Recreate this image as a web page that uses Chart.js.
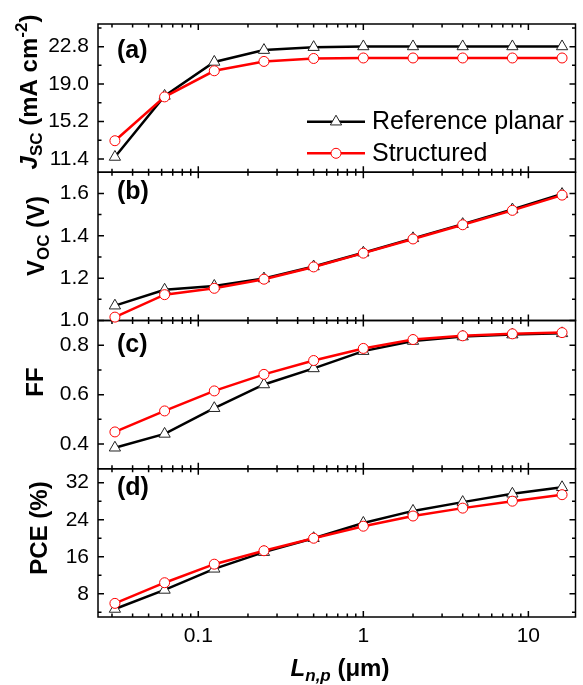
<!DOCTYPE html>
<html><head><meta charset="utf-8">
<script src="https://cdn.jsdelivr.net/npm/chart.js@4/dist/chart.umd.min.js"></script>
<style>html,body{margin:0;padding:0;background:#fff}canvas{display:block}</style>
</head><body>
<canvas id="c" width="583" height="685"></canvas>
<script>
// ---- data ----
const diffusionLengths = [0.03125, 0.0625, 0.125, 0.25, 0.5, 1, 2, 4, 8, 16];
const seriesNames = ['Reference planar', 'Structured'];
const jscPlanar     = [11.6, 17.8, 21.25, 22.45, 22.75, 22.82, 22.82, 22.82, 22.82, 22.82];
const jscStructured = [13.25, 17.7, 20.35, 21.3, 21.6, 21.65, 21.65, 21.65, 21.65, 21.65];
const vocPlanar     = [1.07, 1.145, 1.163, 1.198, 1.255, 1.32, 1.388, 1.455, 1.524, 1.597];
const vocStructured = [1.016, 1.122, 1.152, 1.195, 1.253, 1.318, 1.385, 1.452, 1.520, 1.592];
const ffPlanar      = [0.385, 0.441, 0.545, 0.641, 0.706, 0.776, 0.817, 0.835, 0.843, 0.848];
const ffStructured  = [0.449, 0.534, 0.615, 0.682, 0.738, 0.787, 0.823, 0.838, 0.846, 0.851];
const pcePlanar     = [4.73, 8.84, 13.4, 17.0, 20.0, 23.3, 25.9, 27.8, 29.6, 31.0];
const pceStructured = [5.94, 10.4, 14.4, 17.3, 20.0, 22.6, 24.8, 26.5, 28.0, 29.4];
const panelLabels = ['(a)', '(b)', '(c)', '(d)'];
const xTickLabels = [0.1, 1, 10];
const jscTicks = [11.4, 15.2, 19.0, 22.8];
const vocTicks = [1.0, 1.2, 1.4, 1.6];
const ffTicks  = [0.4, 0.6, 0.8];
const pceTicks = [8, 16, 24, 32];
const jscMinor = [13.3, 17.1, 20.9, 24.7];
const vocMinor = [1.1, 1.3, 1.5];
const ffMinor  = [0.5, 0.7];
const pceMinor = [4, 12, 20, 28];
const xMinor = [];
[0.01, 0.1, 1].forEach(d => { for (let k = 2; k <= 9; k++) xMinor.push(+(d * k).toPrecision(3)); });

// ---- style ----
const FONT = '"Liberation Sans", Arial, sans-serif';
const BLACK = '#000000', RED = '#ff0000';

const panels = [
  {id: 'ya', min: 10.05, max: 25.1, ticks: jscTicks, minor: jscMinor, dec: 1, a: jscPlanar, b: jscStructured},
  {id: 'yb', min: 1.0, max: 1.7, ticks: vocTicks, minor: vocMinor, dec: 1, a: vocPlanar, b: vocStructured},
  {id: 'yc', min: 0.3, max: 0.9, ticks: ffTicks, minor: ffMinor, dec: 1, a: ffPlanar, b: ffStructured},
  {id: 'yd', min: 3, max: 35, ticks: pceTicks, minor: pceMinor, dec: 0, a: pcePlanar, b: pceStructured}
];

const scales = {
  x: {
    type: 'logarithmic', position: 'bottom', min: 0.02468, max: 19.3,
    grid: {display: false, drawTicks: false}, border: {display: false},
    ticks: {font: {family: FONT, size: 21}, color: BLACK, padding: 7, autoSkip: false, maxRotation: 0,
            callback: v => String(v)},
    afterBuildTicks: s => { s.ticks = xTickLabels.map(v => ({value: v})); },
    afterFit: s => { s.height = 68; }
  }
};
const datasets = [];
panels.forEach((p, i) => {
  scales[p.id] = {
    type: 'linear', position: 'left', stack: 'v', stackWeight: 1, weight: 4 - i,
    min: p.min, max: p.max,
    grid: {display: false, drawTicks: false}, border: {display: false},
    ticks: {font: {family: FONT, size: 21}, color: BLACK, padding: 9, autoSkip: false,
            callback: v => Number(v).toFixed(p.dec)},
    afterBuildTicks: s => { s.ticks = p.ticks.map(v => ({value: v})); },
    afterFit: s => { s.width = 98; }
  };
  datasets.push({
    label: seriesNames[0], yAxisID: p.id, xAxisID: 'x', order: 1,
    data: diffusionLengths.map((x, k) => ({x, y: p.a[k]})),
    borderColor: BLACK, borderWidth: 2.5, tension: 0, clip: false,
    pointStyle: 'triangle', pointRadius: 6.5, pointBorderWidth: 1,
    pointBorderColor: '#222', pointBackgroundColor: '#ffffff'
  });
  datasets.push({
    label: seriesNames[1], yAxisID: p.id, xAxisID: 'x', order: 0,
    data: diffusionLengths.map((x, k) => ({x, y: p.b[k]})),
    borderColor: RED, borderWidth: 2.5, tension: 0, clip: false,
    pointStyle: 'circle', pointRadius: 5, pointBorderWidth: 1,
    pointBorderColor: RED, pointBackgroundColor: '#ffffff'
  });
});

function drawRich(ctx, segs, cx, cy, rot) {
  ctx.save();
  ctx.translate(cx, cy);
  if (rot) ctx.rotate(rot);
  let total = 0;
  segs.forEach(s => { ctx.font = s.font; s.w = ctx.measureText(s.text).width; total += s.w; });
  let x = -total / 2;
  ctx.textAlign = 'left'; ctx.textBaseline = 'alphabetic'; ctx.fillStyle = BLACK;
  segs.forEach(s => { ctx.font = s.font; ctx.fillText(s.text, x, s.dy || 0); x += s.w; });
  ctx.restore();
}

const framePlugin = {
  id: 'frames',
  beforeDatasetsDraw(chart) {
    const ctx = chart.ctx, ca = chart.chartArea, xs = chart.scales.x;
    ctx.save();
    ctx.strokeStyle = BLACK; ctx.lineWidth = 1.5;
    const MAJ = 6, MIN = 3.5;
    panels.forEach(p => {
      const ys = chart.scales[p.id];
      const top = ys.top, bot = ys.bottom;
      ctx.strokeRect(ca.left, top, ca.right - ca.left, bot - top);
      ctx.beginPath();
      const yt = (v, len) => {
        const py = ys.getPixelForValue(v);
        ctx.moveTo(ca.left, py); ctx.lineTo(ca.left + len, py);
        ctx.moveTo(ca.right, py); ctx.lineTo(ca.right - len, py);
      };
      p.ticks.forEach(v => yt(v, MAJ));
      p.minor.forEach(v => yt(v, MIN));
      const xt = (v, len) => {
        const px = xs.getPixelForValue(v);
        if (px <= ca.left || px >= ca.right) return;
        ctx.moveTo(px, bot); ctx.lineTo(px, bot - len);
        ctx.moveTo(px, top); ctx.lineTo(px, top + len);
      };
      xTickLabels.forEach(v => xt(v, MAJ));
      xMinor.forEach(v => xt(v, MIN));
      ctx.stroke();
    });
    ctx.restore();
  },
  afterDraw(chart) {
    const ctx = chart.ctx;
    const B24 = 'bold 24px ' + FONT, B17 = 'bold 17px ' + FONT;
    const IB24 = 'italic bold 24px ' + FONT, IB17 = 'italic bold 17px ' + FONT;
    const R = -Math.PI / 2;
    // y titles
    drawRich(ctx, [
      {text: 'J', font: IB24}, {text: 'SC', font: B17, dy: 5},
      {text: ' (mA cm', font: B24}, {text: '-2', font: B17, dy: -10}, {text: ')', font: B24}
    ], 37, 92, R);
    drawRich(ctx, [
      {text: 'V', font: B24}, {text: 'OC', font: B17, dy: 5}, {text: ' (V)', font: B24}
    ], 44, 236, R);
    drawRich(ctx, [{text: 'FF', font: B24}], 43, 382, R);
    drawRich(ctx, [{text: 'PCE (%)', font: B24}], 47, 528, R);
    // x title
    drawRich(ctx, [
      {text: 'L', font: IB24}, {text: 'n,p', font: IB17, dy: 5}, {text: ' (\u03bcm)', font: B24}
    ], 340, 676, 0);
    // panel labels
    ctx.save();
    ctx.fillStyle = BLACK; ctx.font = 'bold 25px ' + FONT; ctx.textAlign = 'left'; ctx.textBaseline = 'alphabetic';
    const labelY = [58, 199, 351.5, 495];
    panelLabels.forEach((t, i) => ctx.fillText(t, 117, labelY[i]));
    // legend
    const rows = [
      {y: 121.7, color: BLACK, style: 'triangle', r: 6.5, border: '#222'},
      {y: 153.3, color: RED, style: 'circle', r: 5, border: RED}
    ];
    rows.forEach((r, i) => {
      ctx.strokeStyle = r.color; ctx.lineWidth = 2.5;
      ctx.beginPath(); ctx.moveTo(307, r.y); ctx.lineTo(365, r.y); ctx.stroke();
      ctx.fillStyle = '#ffffff'; ctx.strokeStyle = r.border; ctx.lineWidth = 1;
      Chart.helpers.drawPoint(ctx, {pointStyle: r.style, radius: r.r, borderWidth: 1, rotation: 0}, 336, r.y);
      ctx.fillStyle = BLACK; ctx.font = '25px ' + FONT;
      ctx.fillText(seriesNames[i], 372, r.y + 7.5);
    });
    ctx.restore();
  }
};

new Chart(document.getElementById('c'), {
  type: 'line',
  data: {datasets},
  options: {
    responsive: false, animation: false, devicePixelRatio: 1, events: [],
    layout: {padding: {left: 0, right: 4, top: 24, bottom: 0}},
    scales,
    plugins: {legend: {display: false}, tooltip: {enabled: false}}
  },
  plugins: [framePlugin]
});
</script>
</body></html>
